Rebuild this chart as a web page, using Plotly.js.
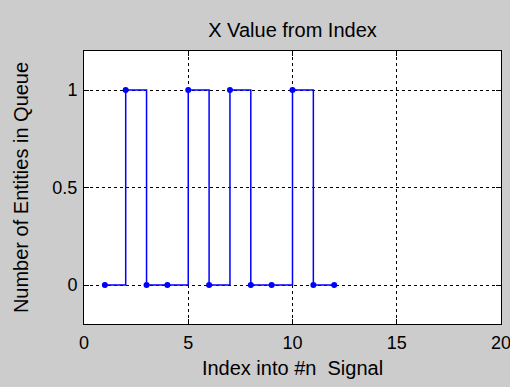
<!DOCTYPE html>
<html>
<head>
<meta charset="utf-8">
<script src="https://cdn.plot.ly/plotly-3.0.1.min.js"></script>
<style>html,body{margin:0;padding:0;background:#cccccc;}#chart{width:510px;height:387px;}</style>
</head>
<body>
<div id="chart"></div>
<script>
var indexValues = [1, 2, 3, 4, 5, 6, 7, 8, 9, 10, 11, 12];
var entityCounts = [0, 1, 0, 0, 1, 0, 1, 0, 0, 1, 0, 0];
var xTickValues = [0, 5, 10, 15, 20];
var yTickValues = [0, 0.5, 1];
var yTickLabels = ['0', '0.5', '1'];

var fontFam = 'Liberation Sans, Arial, sans-serif';
var trace = {
  x: indexValues,
  y: entityCounts,
  type: 'scatter',
  mode: 'lines+markers',
  line: {shape: 'hv', color: '#0000ff', width: 1.5},
  marker: {color: '#0000ff', size: 6},
  hoverinfo: 'skip'
};
var axisCommon = {
  showline: true, linecolor: '#000', linewidth: 1, mirror: 'ticks',
  ticks: 'inside', ticklen: 5, tickcolor: '#000', tickwidth: 1,
  showgrid: true, gridcolor: '#000', gridwidth: 1, griddash: '3px,3px',
  zeroline: false, ticklabeloverflow: 'allow',
  tickfont: {family: fontFam, size: 18, color: '#000'}
};
var layout = {
  width: 510, height: 387,
  paper_bgcolor: '#cccccc', plot_bgcolor: '#ffffff',
  margin: {l: 84, r: 9, t: 51, b: 63},
  showlegend: false,
  title: {text: 'X Value from Index', font: {family: fontFam, size: 20, color: '#000'},
          x: 0.5, xref: 'paper', y: 1 - 30/387, yref: 'container', yanchor: 'middle'},
  xaxis: Object.assign({}, axisCommon, {
    range: [0, 20], tickvals: xTickValues, ticklabelstandoff: 2,
    title: {text: 'Index into #n\u00a0 Signal', font: {family: fontFam, size: 20, color: '#000'}, standoff: 9}
  }),
  yaxis: Object.assign({}, axisCommon, {
    range: [-0.2, 1.2], tickvals: yTickValues, ticktext: yTickLabels, ticklabelstandoff: 2,
    title: {text: 'Number of Entities in Queue', font: {family: fontFam, size: 20, color: '#000'}, standoff: 18}
  })
};
Plotly.newPlot('chart', [trace], layout, {displayModeBar: false, staticPlot: true});
</script>
</body>
</html>
